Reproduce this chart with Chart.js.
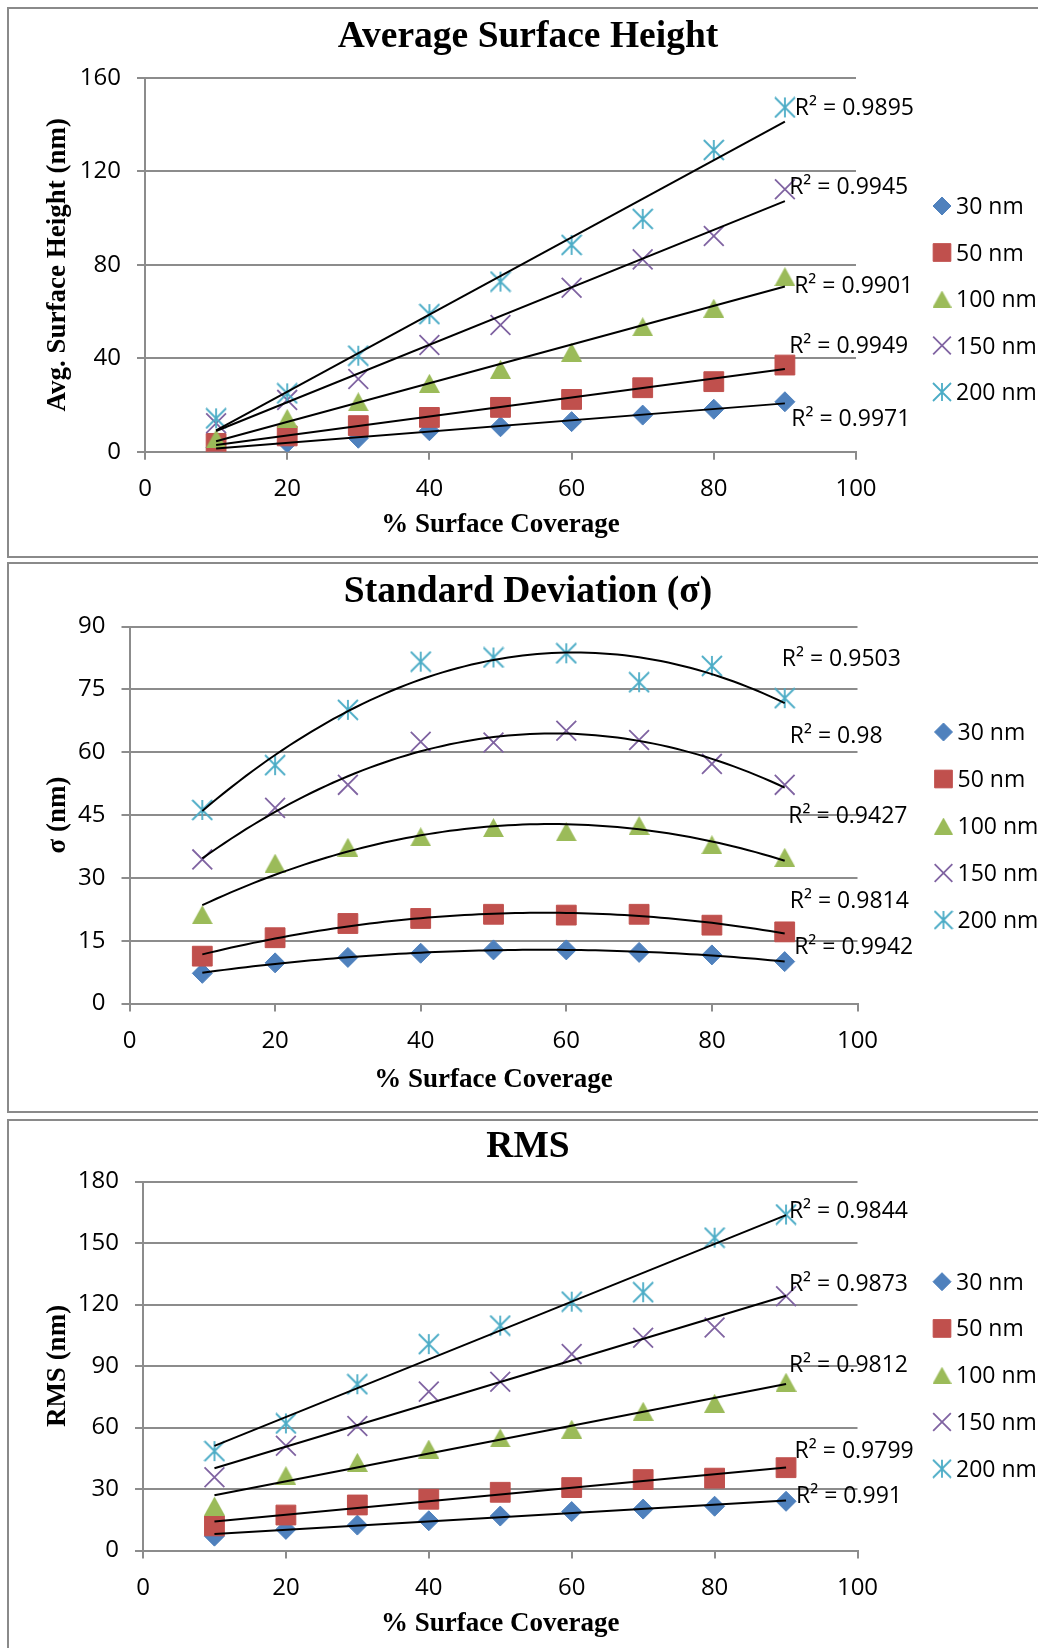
<!DOCTYPE html>
<html>
<head>
<meta charset="utf-8">
<title>Surface coverage</title>
<script src="https://cdn.jsdelivr.net/npm/chart.js@4.4.1/dist/chart.umd.min.js"></script>
<style>
  html, body { margin: 0; padding: 0; background: #fff; }
  body { width: 1038px; height: 1648px; overflow: hidden; position: relative; }
  .panel { position: absolute; left: 7px; width: 1100px; border: 2px solid #8a8a8a; box-sizing: border-box; }
  canvas { position: absolute; left: 0; }
</style>
</head>
<body>
<div class="panel" style="top:7px;height:551px"></div>
<div class="panel" style="top:562px;height:551px"></div>
<div class="panel" style="top:1119px;height:600px"></div>
<canvas id="avgChart" width="1056" height="556" style="top:0"></canvas>
<canvas id="sdChart" width="1056" height="556" style="top:556px"></canvas>
<canvas id="rmsChart" width="1056" height="536" style="top:1112px"></canvas>
<script>
const coverage = [10, 20, 30, 40, 50, 60, 70, 80, 90];
const sizeNames = ["30 nm", "50 nm", "100 nm", "150 nm", "200 nm"];

// average surface height (nm)
const avg30 = [1.8, 3.9, 5.8, 9.0, 10.7, 12.9, 15.7, 18.2, 21.4];
const avg50 = [3.6, 6.8, 11.2, 14.7, 19.0, 22.4, 27.4, 30.0, 37.1];
const avg100 = [5.5, 14.3, 21.4, 29.3, 35.3, 42.6, 53.5, 61.4, 74.9];
const avg150 = [12.2, 22.2, 31.1, 45.7, 54.2, 70.2, 82.3, 92.3, 112.3];
const avg200 = [14.3, 25.0, 41.1, 58.9, 72.8, 88.5, 99.6, 129.1, 147.3];
const avgR2 = ["0.9971", "0.9949", "0.9901", "0.9945", "0.9895"];

// standard deviation (nm)
const sd30 = [7.2, 9.7, 11.0, 12.0, 12.8, 12.8, 12.2, 11.6, 10.0];
const sd50 = [11.3, 15.7, 19.1, 20.3, 21.3, 21.1, 21.3, 18.7, 17.1];
const sd100 = [21.2, 33.5, 37.3, 39.8, 42.0, 41.0, 42.5, 37.9, 34.9];
const sd150 = [34.4, 46.7, 52.2, 62.5, 62.3, 65.1, 62.9, 57.2, 52.2];
const sd200 = [46.2, 56.9, 70.1, 81.6, 82.6, 83.6, 76.7, 80.6, 72.9];
const sdR2 = ["0.9942", "0.9814", "0.9427", "0.98", "0.9503"];

// rms roughness (nm)
const rms30 = [7.0, 10.3, 12.4, 14.5, 16.8, 19.0, 20.2, 21.6, 24.0];
const rms50 = [12.0, 17.3, 22.2, 25.0, 28.4, 30.7, 34.6, 35.3, 40.4];
const rms100 = [21.7, 36.5, 43.0, 49.5, 54.9, 59.2, 67.9, 71.8, 82.1];
const rms150 = [35.7, 51.1, 60.7, 77.5, 82.3, 95.8, 103.8, 108.8, 124.0];
const rms200 = [48.5, 62.0, 81.1, 100.7, 109.7, 121.4, 126.0, 152.6, 163.9];
const rmsR2 = ["0.991", "0.9799", "0.9812", "0.9873", "0.9844"];

const SANS = '"Open Sans", sans-serif';
const SERIF = '"Liberation Serif", "Times New Roman", serif';
const GRID = "#8c8c8c";

Chart.defaults.font.family = SANS;
Chart.defaults.color = "#000";

// small canvases used as marker glyphs
function markerCanvas(w, h, paint) {
  const c = document.createElement("canvas");
  c.width = w;
  c.height = h;
  paint(c.getContext("2d"), w, h);
  return c;
}
function asterisk(size, color) {
  return markerCanvas(size + 2, size + 2, (g, w) => {
    const m = w / 2, r = size / 2;
    g.strokeStyle = color;
    g.lineWidth = 1.8;
    g.beginPath();
    g.moveTo(m, m - r); g.lineTo(m, m + r);
    g.moveTo(m - r, m - r); g.lineTo(m + r, m + r);
    g.moveTo(m + r, m - r); g.lineTo(m - r, m + r);
    g.stroke();
  });
}
function triangle(w, h, color) {
  return markerCanvas(w, h, (g) => {
    g.fillStyle = color;
    g.beginPath();
    g.moveTo(w / 2, 0); g.lineTo(w, h); g.lineTo(0, h);
    g.closePath();
    g.fill();
  });
}

const colors = ["#4F81BD", "#C0504D", "#9BBB59", "#8064A2", "#4BACC6"];
const plotLooks = [
  { pointStyle: "rectRot", radius: 10, borderWidth: 1 },
  { pointStyle: "rect", radius: 14, borderWidth: 1 },
  { pointStyle: triangle(21, 19, colors[2]), radius: 10, borderWidth: 0 },
  { pointStyle: "crossRot", radius: 14, borderWidth: 1.8 },
  { pointStyle: asterisk(20, colors[4]), radius: 10, borderWidth: 0 },
];
const legendLooks = [
  { pointStyle: "rectRot", radius: 9, borderWidth: 1 },
  { pointStyle: "rect", radius: 12.5, borderWidth: 1 },
  { pointStyle: triangle(19, 17, colors[2]), radius: 9, borderWidth: 0 },
  { pointStyle: "crossRot", radius: 12.5, borderWidth: 1.8 },
  { pointStyle: asterisk(18, colors[4]), radius: 9, borderWidth: 0 },
];

// least squares polynomial fit, returns f(x)
function polyFit(xs, ys, degree) {
  const n = degree + 1;
  const A = [], b = [];
  for (let i = 0; i < n; i++) {
    A.push([]);
    for (let j = 0; j < n; j++) A[i].push(xs.reduce((s, x) => s + Math.pow(x, i + j), 0));
    b.push(xs.reduce((s, x, k) => s + ys[k] * Math.pow(x, i), 0));
  }
  for (let c = 0; c < n; c++) {
    for (let r = c + 1; r < n; r++) {
      const f = A[r][c] / A[c][c];
      for (let k = c; k < n; k++) A[r][k] -= f * A[c][k];
      b[r] -= f * b[c];
    }
  }
  const coef = new Array(n).fill(0);
  for (let r = n - 1; r >= 0; r--) {
    let s = b[r];
    for (let k = r + 1; k < n; k++) s -= A[r][k] * coef[k];
    coef[r] = s / A[r][r];
  }
  return (x) => coef.reduce((s, c, i) => s + c * Math.pow(x, i), 0);
}

function trendPoints(ys, degree) {
  const f = polyFit(coverage, ys, degree);
  const x0 = coverage[0], x1 = coverage[coverage.length - 1];
  const steps = degree === 1 ? 1 : 80;
  const pts = [];
  for (let i = 0; i <= steps; i++) {
    const x = x0 + ((x1 - x0) * i) / steps;
    pts.push({ x: x, y: f(x) });
  }
  return pts;
}

// heading, R² labels and the side legend
const panelText = {
  id: "panelText",
  afterDatasetsDraw(chart, args, o) {
    const { ctx } = chart;
    const xs = chart.scales.x, ys = chart.scales.y;
    ctx.save();
    ctx.fillStyle = "#000";
    ctx.textAlign = "center";
    ctx.textBaseline = "alphabetic";
    ctx.font = "bold 37.5px " + SERIF;
    ctx.fillText(o.title, o.titleX, o.titleY);

    ctx.font = "23px " + SANS;
    ctx.textAlign = "left";
    ctx.textBaseline = "middle";
    o.r2.forEach((txt, i) => {
      const at = o.r2At[i];
      ctx.fillText("R\u00b2 = " + txt, xs.getPixelForValue(at[0]), ys.getPixelForValue(at[1]) + 2);
    });

    sizeNames.forEach((name, i) => {
      const ly = o.legendTop + i * o.legendGap;
      const look = legendLooks[i];
      ctx.fillStyle = colors[i];
      ctx.strokeStyle = colors[i];
      ctx.lineWidth = look.borderWidth;
      Chart.helpers.drawPoint(ctx, {
        pointStyle: look.pointStyle, radius: look.radius,
        borderWidth: look.borderWidth, rotation: 0,
      }, o.legendX, ly);
      ctx.fillStyle = "#000";
      ctx.fillText(name, o.legendTextX, ly + 1.5);
    });
    ctx.restore();
  },
};

function makeChart(id, p) {
  const canvas = document.getElementById(id);
  const W = canvas.width, H = canvas.height;
  const datasets = [];
  p.series.forEach((ys, i) => {
    datasets.push({
      label: sizeNames[i],
      data: coverage.map((x, k) => ({ x: x, y: ys[k] })),
      pointStyle: plotLooks[i].pointStyle,
      pointRadius: plotLooks[i].radius,
      pointHoverRadius: plotLooks[i].radius,
      pointBorderWidth: plotLooks[i].borderWidth,
      backgroundColor: colors[i],
      borderColor: colors[i],
      showLine: false,
      order: 10 - i,
    });
  });
  p.series.forEach((ys) => {
    datasets.push({
      data: trendPoints(ys, p.degree),
      showLine: true,
      pointRadius: 0,
      borderColor: "#000",
      borderWidth: 2,
      order: 0,
    });
  });

  return new Chart(canvas, {
    type: "scatter",
    data: { datasets: datasets },
    plugins: [panelText],
    options: {
      responsive: false,
      animation: false,
      devicePixelRatio: 1,
      layout: { padding: { left: 0, top: p.area.top, right: W - p.area.right, bottom: 0 } },
      plugins: {
        legend: { display: false },
        tooltip: { enabled: false },
        panelText: {
          title: p.title, titleX: 528, titleY: p.titleY,
          r2: p.r2, r2At: p.r2At,
          legendTop: p.legendTop, legendGap: p.legendGap,
          legendX: p.legendX, legendTextX: p.legendX + 14,
        },
      },
      scales: {
        x: {
          type: "linear", min: 0, max: 100,
          ticks: { stepSize: 20, padding: 15, font: { size: 24 } },
          grid: { drawOnChartArea: false, drawTicks: true, tickLength: 8, color: GRID, lineWidth: 2 },
          border: { color: GRID, width: 2 },
          title: {
            display: true, text: "% Surface Coverage",
            font: { family: SERIF, size: 27, weight: "bold" },
            padding: { top: 0, bottom: H - p.xTitleY - 16.2 },
          },
          afterFit: (s) => { s.height = H - p.area.bottom; },
        },
        y: {
          min: 0, max: p.yMax,
          ticks: { stepSize: p.yStep, padding: 16, font: { size: 24 } },
          grid: { color: GRID, lineWidth: 2, tickLength: 8 },
          border: { color: GRID, width: 2 },
          title: {
            display: true, text: p.yTitle,
            font: { family: SERIF, size: 27, weight: "bold" },
            padding: { top: 58 - 16.2, bottom: 0 },
          },
          afterFit: (s) => { s.width = p.area.left; },
        },
      },
    },
  });
}

makeChart("avgChart", {
  title: "Average Surface Height", titleY: 47,
  yTitle: "Avg. Surface Height (nm)", yMax: 160, yStep: 40,
  series: [avg30, avg50, avg100, avg150, avg200], degree: 1,
  r2: avgR2,
  r2At: [[90.9, 14.9], [90.6, 46.1], [91.3, 71.4], [90.6, 114], [91.4, 147.5]],
  area: { left: 145, right: 856, top: 77.7, bottom: 451.8 },
  xTitleY: 525.5,
  legendTop: 206, legendGap: 46.5, legendX: 942,
});

makeChart("sdChart", {
  title: "Standard Deviation (\u03c3)", titleY: 46,
  yTitle: "\u03c3 (nm)", yMax: 90, yStep: 15,
  series: [sd30, sd50, sd100, sd150, sd200], degree: 2,
  r2: sdR2,
  r2At: [[91.3, 13.8], [90.7, 24.9], [90.5, 45.2], [90.7, 64.2], [89.6, 82.5]],
  area: { left: 129.5, right: 857.5, top: 70.5, bottom: 447.5 },
  xTitleY: 524.5,
  legendTop: 176, legendGap: 47, legendX: 943.5,
});

makeChart("rmsChart", {
  title: "RMS", titleY: 45,
  yTitle: "RMS (nm)", yMax: 180, yStep: 30,
  series: [rms30, rms50, rms100, rms150, rms200], degree: 1,
  r2: rmsR2,
  r2At: [[91.4, 27.1], [91.2, 49.1], [90.4, 91.1], [90.4, 130.6], [90.4, 166.5]],
  area: { left: 143, right: 857.5, top: 69.5, bottom: 438.5 },
  xTitleY: 512,
  legendTop: 169.7, legendGap: 46.75, legendX: 942,
});
</script>
</body>
</html>
